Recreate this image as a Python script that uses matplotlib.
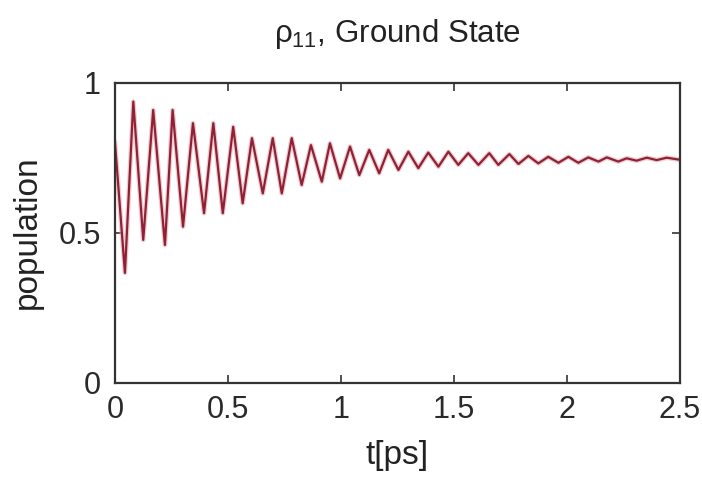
import matplotlib
matplotlib.use('Agg')
import matplotlib.pyplot as plt

# extrema of rho_11 (t in ps, population)
t_ps = [0.0, 0.044, 0.081, 0.125, 0.169, 0.221, 0.255, 0.301, 0.345, 0.394,
        0.435, 0.477, 0.523, 0.565, 0.606, 0.654, 0.698, 0.738, 0.782, 0.826,
        0.867, 0.915, 0.951, 0.996, 1.040, 1.081, 1.125, 1.169, 1.209, 1.254,
        1.298, 1.342, 1.386, 1.431, 1.475, 1.519, 1.563, 1.608, 1.656, 1.696,
        1.745, 1.785, 1.829, 1.873, 1.917, 1.962, 2.006, 2.050, 2.094, 2.139,
        2.176, 2.227, 2.264, 2.308, 2.353, 2.397, 2.441, 2.5]
population = [0.80, 0.366, 0.937, 0.476, 0.909, 0.459, 0.909, 0.52, 0.865, 0.565,
              0.865, 0.565, 0.853, 0.598, 0.815, 0.631, 0.815, 0.631, 0.815, 0.659,
              0.792, 0.67, 0.798, 0.681, 0.787, 0.692, 0.776, 0.698, 0.776, 0.709,
              0.77, 0.715, 0.767, 0.72, 0.77, 0.726, 0.765, 0.726, 0.765, 0.726,
              0.762, 0.729, 0.756, 0.731, 0.753, 0.733, 0.753, 0.733, 0.751, 0.737,
              0.751, 0.737, 0.748, 0.74, 0.75, 0.742, 0.75, 0.743]

xticks = [0, 0.5, 1, 1.5, 2, 2.5]
xticklabels = ['0', '0.5', '1', '1.5', '2', '2.5']
yticks = [0, 0.5, 1]
yticklabels = ['0', '0.5', '1']

plt.rcParams['font.family'] = ['Liberation Sans', 'DejaVu Sans']
plt.rcParams['mathtext.fontset'] = 'custom'
plt.rcParams['mathtext.rm'] = 'Liberation Sans'
plt.rcParams['mathtext.it'] = 'Liberation Sans'
plt.rcParams['mathtext.bf'] = 'Liberation Sans'

fig = plt.figure(figsize=(7.02, 4.83), dpi=100)
ax = fig.add_axes([0.1638, 0.2077, 0.8049, 0.6211])

# soft halo + dark core, like the blurred original
ax.plot(t_ps, population, color='#e7aab5', lw=3.4, alpha=0.6,
        solid_joinstyle='round')
ax.plot(t_ps, population, color='#8e2234', lw=1.6, solid_joinstyle='round')

ax.set_xlim(0, 2.5)
ax.set_ylim(0, 1)
ax.set_xticks(xticks)
ax.set_xticklabels(xticklabels)
ax.set_yticks(yticks)
ax.set_yticklabels(yticklabels)
ax.tick_params(direction='in', length=6, width=1.2, top=True, right=True,
               labelsize=22, pad=9, colors='#333333', labelcolor='#2a2a2a')
ax.tick_params(axis='y', pad=10)
for s in ax.spines.values():
    s.set_linewidth(1.6)
    s.set_color('#333333')

ax.set_title(r'$\rho_{11}$, Ground State', fontsize=22.5, color='#222222', pad=29)
ax.set_xlabel('t[ps]', fontsize=24, color='#222222', labelpad=11)
ax.set_ylabel('population', fontsize=24, color='#222222')
ax.yaxis.set_label_coords(-0.128, 0.5)

fig.savefig('out.png', dpi=100)
